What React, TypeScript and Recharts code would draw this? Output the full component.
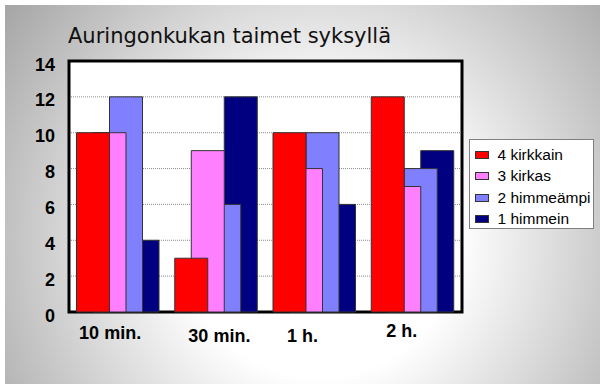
import {
  BarChart,
  Bar,
  XAxis,
  YAxis,
  CartesianGrid,
  ReferenceArea,
  Legend,
} from "recharts";

const categories = ["10 min.", "30 min.", "1 h.", "2 h."];
const kirkkain = [10, 3, 10, 12];
const kirkas = [10, 9, 8, 7];
const himmeampi = [12, 6, 10, 8];
const himmein = [4, 12, 6, 9];
const yTicks = [0, 2, 4, 6, 8, 10, 12, 14];

const series = [
  { key: "kirkkain", name: "4 kirkkain", color: "#ff0000", values: kirkkain },
  { key: "kirkas", name: "3 kirkas", color: "#ff80ff", values: kirkas },
  { key: "himmeampi", name: "2 himmeämpi", color: "#8080ff", values: himmeampi },
  { key: "himmein", name: "1 himmein", color: "#000080", values: himmein },
];

const data = categories.map((category, i) => {
  const row: Record<string, string | number> = { category };
  series.forEach((s) => (row[s.key] = s.values[i]));
  return row;
});

const FONT = "'Liberation Sans', Arial, sans-serif";

// category labels sit a little off their band centres
const labelShift = [
  [-8, 24.5],
  [3, 27.5],
  [-12, 27.5],
  [-11, 22.5],
];

function XTick(props: any) {
  const { x, y, payload, index } = props;
  const [dx, dy] = labelShift[index] ?? [0, 25];
  return (
    <text
      x={x + dx}
      y={y + dy}
      textAnchor="middle"
      fontFamily={FONT}
      fontWeight="bold"
      fontSize={18}
      fill="#000"
    >
      {payload.value}
    </text>
  );
}

function YTick(props: any) {
  const { x, y, payload } = props;
  return (
    <text
      x={x}
      y={y + 9.5}
      textAnchor="end"
      fontFamily={FONT}
      fontWeight="bold"
      fontSize={18}
      fill="#000"
    >
      {payload.value}
    </text>
  );
}

function LegendBox() {
  return (
    <div
      style={{
        width: 123,
        height: 84,
        border: "1px solid #7f7f7f",
        background: "#fff",
        paddingTop: 4,
        fontFamily: FONT,
        fontSize: 15.5,
        color: "#000",
      }}
    >
      {series.map((s) => (
        <div
          key={s.key}
          style={{ display: "flex", alignItems: "center", height: 21.5 }}
        >
          <span
            style={{
              display: "inline-block",
              width: 12,
              height: 6,
              marginLeft: 5,
              marginRight: 8.5,
              background: s.color,
              border: "1px solid #333",
            }}
          />
          <span style={{ whiteSpace: "nowrap" }}>{s.name}</span>
        </div>
      ))}
    </div>
  );
}

export default function App() {
  return (
    <div
      style={{
        position: "absolute",
        left: 5,
        top: 5,
        width: 595,
        height: 379,
        background:
          "radial-gradient(circle farthest-corner at 315px 235px, #ffffff 35%, #a5a5a5 100%)",
      }}
    >
      <div
        style={{
          position: "absolute",
          left: 63,
          top: 21,
          fontFamily: "'DejaVu Sans', Verdana, sans-serif",
          fontSize: 21,
          lineHeight: "21px",
          color: "#111",
          whiteSpace: "nowrap",
        }}
      >
        Auringonkukan taimet syksyllä
      </div>

      <BarChart
        width={595}
        height={379}
        data={data}
        margin={{ top: 56, right: 138, bottom: 42, left: 0 }}
        barSize={33}
        barGap={-49.5}
      >
        <CartesianGrid
          vertical={false}
          fill="#fff"
          stroke="#8c8c8c"
          strokeDasharray="1 1"
        />
        <XAxis
          dataKey="category"
          height={30}
          axisLine={false}
          tickLine={false}
          tickSize={0}
          tick={<XTick />}
          interval={0}
        />
        <YAxis
          width={64}
          domain={[0, 14]}
          ticks={yTicks}
          axisLine={false}
          tickLine={false}
          tickSize={0}
          tickMargin={14}
          tick={<YTick />}
        />
        <Legend
          layout="vertical"
          align="center"
          verticalAlign="middle"
          content={<LegendBox />}
          wrapperStyle={{ left: 464, top: 134, width: "auto" }}
        />
        {/* drawn last-to-first so the brightest series ends up on top */}
        {[...series].reverse().map((s) => (
          <Bar
            key={s.key}
            dataKey={s.key}
            name={s.name}
            fill={s.color}
            stroke="#333"
            strokeWidth={1}
            isAnimationActive={false}
          />
        ))}
        <ReferenceArea
          y1={0}
          y2={14}
          fill="#fff"
          fillOpacity={0}
          stroke="#000"
          strokeWidth={3}
          ifOverflow="visible"
        />
      </BarChart>
    </div>
  );
}
